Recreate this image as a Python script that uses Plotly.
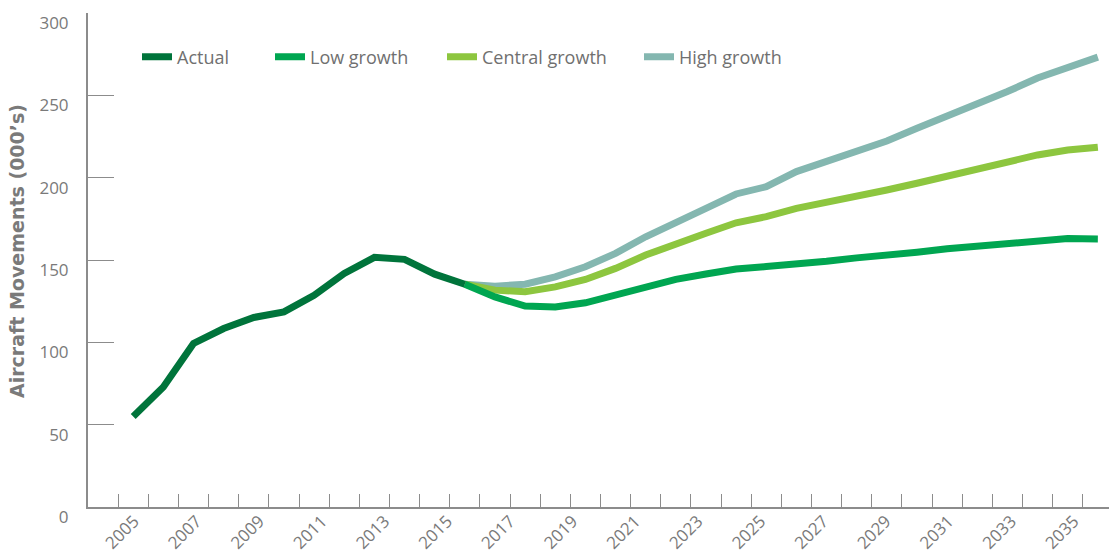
import plotly.graph_objects as go

# Aircraft movements, thousands
actual_years = [2005, 2006, 2007, 2008, 2009, 2010, 2011, 2012, 2013, 2014, 2015, 2016]
actual = [55.0, 72.9, 99.3, 108.4, 115.1, 118.5, 128.6, 141.8, 151.6, 150.4, 141.4, 135.3]

forecast_years = [2016, 2017, 2018, 2019, 2020, 2021, 2022, 2023, 2024, 2025, 2026,
                  2027, 2028, 2029, 2030, 2031, 2032, 2033, 2034, 2035, 2036, 2037]
low_growth = [135.3, 127.6, 122.0, 121.5, 124.0, 128.6, 133.7, 138.2, 141.5, 144.5, 146.0,
              147.1, 149.2, 151.3, 152.7, 154.7, 156.8, 158.2, 159.9, 161.5, 163.0, 162.8]
central_growth = [135.3, 131.7, 130.7, 133.7, 138.2, 144.9, 153.0, 159.1, 166.2, 172.6, 176.3,
                  181.4, 185.0, 188.1, 192.5, 196.6, 201.0, 205.7, 209.7, 213.8, 216.8, 218.5]
high_growth = [135.3, 134.1, 135.3, 139.8, 145.9, 154.0, 164.1, 173.3, 181.4, 190.1, 194.5,
               203.7, 209.7, 216.8, 222.3, 230.0, 237.1, 244.2, 252.3, 260.5, 266.5, 273.2]

year_labels = [2005, 2007, 2009, 2011, 2013, 2015, 2017, 2019, 2021, 2023, 2025,
               2027, 2029, 2031, 2033, 2035]
y_ticks = [0, 50, 100, 150, 200, 250, 300]

COL_ACTUAL = "#00743B"
COL_LOW = "#00A651"
COL_CENTRAL = "#8DC63F"
COL_HIGH = "#84B7B0"
AXIS_GREY = "#8C8C8C"
TEXT_GREY = "#7A7A7A"
FONT = "Open Sans"

W, H = 1109, 556
M_L, M_R, M_T, M_B = 88, 0, 13, 49
plot_w = W - M_L - M_R
plot_h = H - M_T - M_B


def px_x(px):
    return (px - M_L) / plot_w


def px_y(py):
    return 1 - (py - M_T) / plot_h


fig = go.Figure()

# forecasts drawn first so the actual series sits on top
series = [
    ("High growth", forecast_years, high_growth, COL_HIGH, "legend4"),
    ("Central growth", forecast_years, central_growth, COL_CENTRAL, "legend3"),
    ("Low growth", forecast_years, low_growth, COL_LOW, "legend2"),
    ("Actual", actual_years, actual, COL_ACTUAL, "legend"),
]
for name, xs, ys, col, lg in series:
    fig.add_trace(go.Scatter(
        x=xs, y=ys, name=name, mode="lines",
        line=dict(color=col, width=7),
        legend=lg, hoverinfo="x+y+name",
    ))

# small tick marks sit on the boundaries between years
boundaries = [2003.5 + i for i in range(35)]

legend_common = dict(
    orientation="h", yanchor="middle", xanchor="left",
    y=px_y(57), font=dict(family=FONT, size=18, color="#707070"),
    bgcolor="rgba(0,0,0,0)", borderwidth=0,
)
legend_origins = {"legend": 137, "legend2": 270, "legend3": 442, "legend4": 639}
layout_legends = {k: dict(legend_common, x=px_x(v)) for k, v in legend_origins.items()}

fig.update_layout(
    width=W, height=H,
    margin=dict(l=M_L, r=M_R, t=M_T, b=M_B, pad=0),
    paper_bgcolor="white", plot_bgcolor="white",
    template="none",
    font=dict(family=FONT, color=TEXT_GREY),
    showlegend=True,
    **layout_legends,
    xaxis=dict(
        range=[2003.5, 2037.37], showgrid=False, zeroline=False,
        showline=True, linecolor=AXIS_GREY, linewidth=2,
        tickmode="array", tickvals=boundaries, ticks="inside",
        ticklen=13, tickwidth=1.3, tickcolor=AXIS_GREY,
        showticklabels=False, automargin=False,
    ),
    xaxis2=dict(
        overlaying="x", anchor="y", side="bottom",
        range=[2003.53, 2036.12], showgrid=False, zeroline=False,
        showline=False, ticks="",
        tickmode="array", tickvals=year_labels,
        ticktext=[str(y) for y in year_labels],
        tickangle=-45, ticklabelstandoff=0,
        tickfont=dict(family=FONT, size=17, color=TEXT_GREY),
        automargin=False,
    ),
    yaxis=dict(
        range=[0, 300], showgrid=False, zeroline=False,
        showline=True, linecolor=AXIS_GREY, linewidth=2,
        tickmode="array", tickvals=y_ticks, ticks="inside",
        ticklen=26, tickwidth=1.3, tickcolor=AXIS_GREY,
        tickfont=dict(family=FONT, size=17, color=TEXT_GREY),
        ticklabelshift=10, ticklabelstandoff=14,
        automargin=False,
    ),
    annotations=[dict(
        text="Aircraft Movements (000’s)", textangle=-90,
        xref="paper", yref="paper", x=px_x(17), y=px_y(251),
        xanchor="center", yanchor="middle", showarrow=False,
        font=dict(family="DejaVu Sans", size=19, color="#7A7A7A", weight="bold"),
    )],
)

# invisible trace so the label axis is drawn
fig.add_trace(go.Scatter(x=[year_labels[0]], y=[None], xaxis="x2", yaxis="y",
                         showlegend=False, hoverinfo="skip"))

fig.write_html("out.html")
